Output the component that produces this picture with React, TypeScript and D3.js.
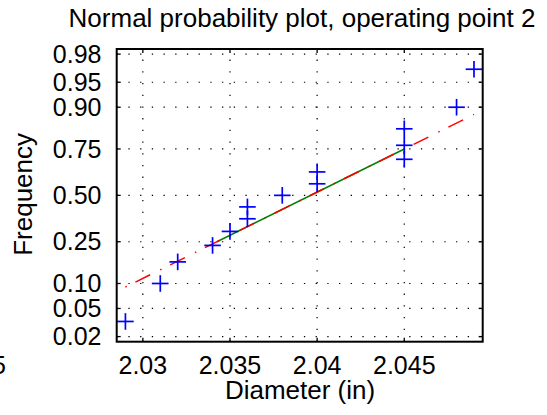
import React from "react";
import * as d3 from "d3";

// ---- data ----
const diameters: number[] = [2.029, 2.031, 2.032, 2.034, 2.035, 2.036, 2.036, 2.038, 2.040, 2.040, 2.045, 2.045, 2.045, 2.048, 2.049];
const probTicks: number[] = [0.02, 0.05, 0.10, 0.25, 0.50, 0.75, 0.90, 0.95, 0.98];
const xTicks: number[] = [2.03, 2.035, 2.04, 2.045];
const titleText = "Normal probability plot, operating point 2";
const xLabel = "Diameter (in)";
const yLabel = "Frequency";
const strayLabel = "2.025";

// inverse standard normal CDF (Acklam)
function norminv(p: number): number {
  const a = [-3.969683028665376e1, 2.209460984245205e2, -2.759285104469687e2, 1.38357751867269e2, -3.066479806614716e1, 2.506628277459239];
  const b = [-5.447609879822406e1, 1.615858368580409e2, -1.556989798598866e2, 6.680131188771972e1, -1.328068155288572e1];
  const c = [-7.784894002430293e-3, -3.223964580411365e-1, -2.400758277161838, -2.549732539343734, 4.374664141464968, 2.938163982698783];
  const d = [7.784695709041462e-3, 3.224671290700398e-1, 2.445134137142996, 3.754408661907416];
  const pl = 0.02425;
  let q: number, r: number;
  if (p < pl) {
    q = Math.sqrt(-2 * Math.log(p));
    return (((((c[0] * q + c[1]) * q + c[2]) * q + c[3]) * q + c[4]) * q + c[5]) / ((((d[0] * q + d[1]) * q + d[2]) * q + d[3]) * q + 1);
  } else if (p <= 1 - pl) {
    q = p - 0.5;
    r = q * q;
    return ((((((a[0] * r + a[1]) * r + a[2]) * r + a[3]) * r + a[4]) * r + a[5]) * q) / (((((b[0] * r + b[1]) * r + b[2]) * r + b[3]) * r + b[4]) * r + 1);
  } else {
    q = Math.sqrt(-2 * Math.log(1 - p));
    return -(((((c[0] * q + c[1]) * q + c[2]) * q + c[3]) * q + c[4]) * q + c[5]) / ((((d[0] * q + d[1]) * q + d[2]) * q + d[3]) * q + 1);
  }
}

function prctile(sorted: number[], pct: number): number {
  const n = sorted.length;
  const pos = (pct / 100) * n + 0.5; // MATLAB style, 1-based
  const lo = Math.floor(pos);
  const frac = pos - lo;
  if (lo < 1) return sorted[0];
  if (lo >= n) return sorted[n - 1];
  return sorted[lo - 1] + frac * (sorted[lo] - sorted[lo - 1]);
}

export default function App() {
  const W = 547, H = 415;
  const left = 116.7, right = 482.7, top = 49, bottom = 341.7;
  const font = "'Liberation Sans', Arial, Helvetica, sans-serif";

  const sorted = [...diameters].sort((a, b) => a - b);
  const n = sorted.length;
  const xmin = sorted[0], xmax = sorted[n - 1];
  const rng = xmax - xmin;

  const x = d3.scaleLinear().domain([xmin - 0.025 * rng, xmax + 0.025 * rng]).range([left, right]);
  const y = d3.scaleLinear().domain([norminv(0.25 / n), norminv(1 - 0.25 / n)]).range([bottom, top]);

  const pts = sorted.map((v, i) => ({ v, z: norminv((i + 0.5) / n) }));

  const q1 = prctile(sorted, 25), q3 = prctile(sorted, 75);
  const z1 = norminv(0.25), z3 = norminv(0.75);
  const slope = (z3 - z1) / (q3 - q1);
  const zAt = (v: number) => z1 + slope * (v - q1);

  const line = d3.line<[number, number]>().x((d) => x(d[0])).y((d) => y(d[1]));
  const greenPath = line([[q1, z1], [q3, z3]]) || "";
  const redPath = line([[xmin, zAt(xmin)], [xmax, zAt(xmax)]]) || "";

  const ms = 8.3;

  return (
    <svg width={W} height={H} style={{ position: "absolute", left: 0, top: 0, background: "#fff" }} fontFamily={font}>
      <rect x={0} y={0} width={W} height={H} fill="#fff" />
      {/* grid */}
      <g stroke="#000" strokeWidth={1.2} strokeDasharray="1.3 10.4">
        {xTicks.map((t) => (
          <line key={"gx" + t} x1={x(t)} x2={x(t)} y1={bottom} y2={top} />
        ))}
        {probTicks.map((p) => (
          <line key={"gy" + p} x1={left} x2={right} y1={y(norminv(p))} y2={y(norminv(p))} />
        ))}
      </g>
      {/* ticks */}
      <g stroke="#000" strokeWidth={1.3}>
        {xTicks.map((t) => (
          <g key={"tx" + t}>
            <line x1={x(t)} x2={x(t)} y1={bottom} y2={bottom - 4} />
            <line x1={x(t)} x2={x(t)} y1={top} y2={top + 4} />
          </g>
        ))}
        {probTicks.map((p) => (
          <g key={"ty" + p}>
            <line x1={left} x2={left + 4} y1={y(norminv(p))} y2={y(norminv(p))} />
            <line x1={right} x2={right - 4} y1={y(norminv(p))} y2={y(norminv(p))} />
          </g>
        ))}
      </g>
      {/* fit lines */}
      <path d={greenPath} stroke="#008000" strokeWidth={1.5} fill="none" />
      <path d={redPath} stroke="#ff0000" strokeWidth={1.5} fill="none" strokeDasharray="1.5 9.7 16.4 11.2" />
      {/* data markers */}
      <g stroke="#0000ff" strokeWidth={1.7}>
        {pts.map((d, i) => (
          <g key={"m" + i}>
            <line x1={x(d.v) - ms} x2={x(d.v) + ms} y1={y(d.z)} y2={y(d.z)} />
            <line x1={x(d.v)} x2={x(d.v)} y1={y(d.z) - ms} y2={y(d.z) + ms} />
          </g>
        ))}
      </g>
      {/* axes box */}
      <rect x={left} y={top} width={right - left} height={bottom - top} fill="none" stroke="#000" strokeWidth={2} />
      {/* tick labels */}
      <g fontSize={25} fill="#000">
        {probTicks.map((p) => (
          <text key={"ly" + p} x={101.5} y={y(norminv(p)) + 8.7} textAnchor="end">
            {p.toFixed(2)}
          </text>
        ))}
        {xTicks.map((t) => (
          <text key={"lx" + t} x={x(t)} y={374} textAnchor="middle">
            {String(t)}
          </text>
        ))}
        <text x={5.8} y={374} textAnchor="end">{strayLabel}</text>
      </g>
      {/* labels */}
      <text x={302} y={27} textAnchor="middle" fontSize={26} fill="#000">{titleText}</text>
      <text x={300} y={398.7} textAnchor="middle" fontSize={26} fill="#000">{xLabel}</text>
      <text transform={`translate(31.7,194.4) rotate(-90)`} textAnchor="middle" fontSize={26} fill="#000">{yLabel}</text>
    </svg>
  );
}
